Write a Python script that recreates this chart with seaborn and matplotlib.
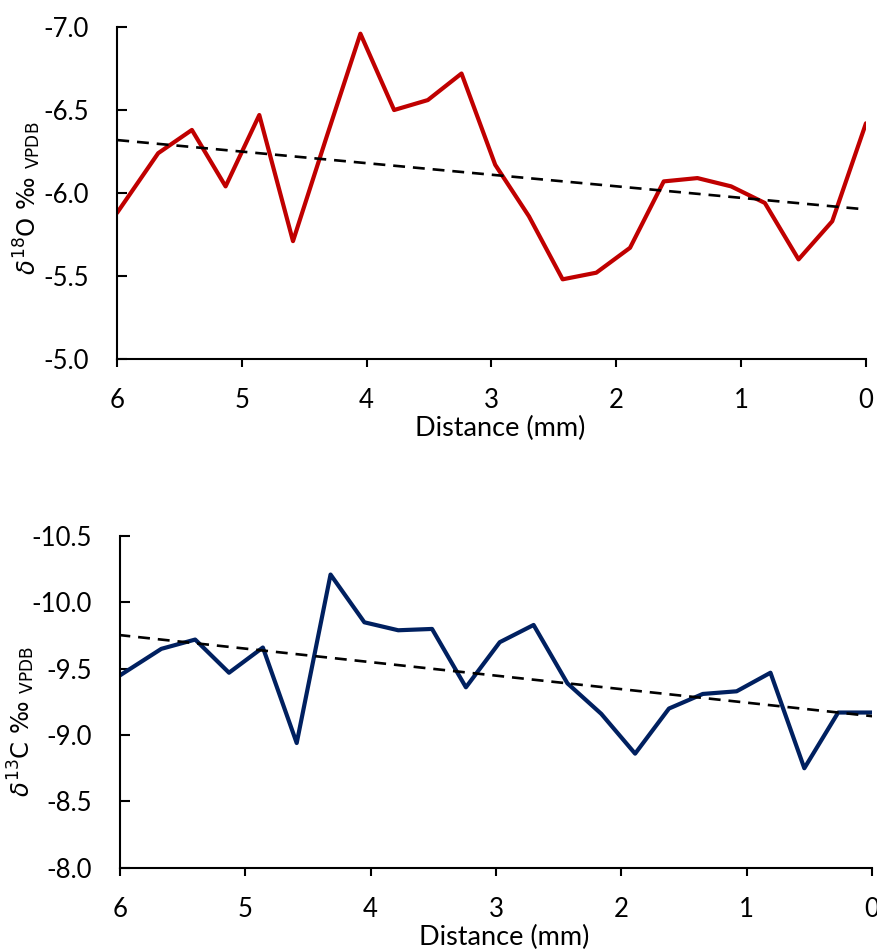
import numpy as np
import pandas as pd
import matplotlib
matplotlib.use("Agg")
import matplotlib.pyplot as plt
import seaborn as sns

# Sampling distance along the profile (mm)
distance_mm = [6.00, 5.67, 5.40, 5.13, 4.86, 4.59, 4.32, 4.05, 3.78, 3.51, 3.24, 2.97,
               2.70, 2.43, 2.16, 1.89, 1.62, 1.35, 1.08, 0.81, 0.54, 0.27, 0.00]

# Oxygen isotope values (per mil, VPDB)
d18O = [-5.88, -6.24, -6.38, -6.04, -6.47, -5.71, -6.34, -6.96, -6.50, -6.56, -6.72, -6.17,
        -5.86, -5.48, -5.52, -5.67, -6.07, -6.09, -6.04, -5.94, -5.60, -5.83, -6.42]

# Carbon isotope values (per mil, VPDB)
d13C = [-9.45, -9.65, -9.72, -9.47, -9.66, -8.94, -10.21, -9.85, -9.79, -9.80, -9.36, -9.70,
        -9.83, -9.39, -9.16, -8.86, -9.20, -9.31, -9.33, -9.47, -8.75, -9.17, -9.17]

x_ticks = [6, 5, 4, 3, 2, 1, 0]
o_ticks = [-7.0, -6.5, -6.0, -5.5, -5.0]
c_ticks = [-10.5, -10.0, -9.5, -9.0, -8.5, -8.0]

df = pd.DataFrame({"distance": distance_mm, "d18O": d18O, "d13C": d13C})

sns.set_theme(style="ticks")
plt.rcParams["font.family"] = ["Lato", "DejaVu Sans"]
plt.rcParams["mathtext.fontset"] = "dejavusans"

fig = plt.figure(figsize=(8.77, 9.52), dpi=100)
ax1 = fig.add_axes([0.1334, 0.6229, 0.854, 0.3487])
ax2 = fig.add_axes([0.1368, 0.0885, 0.8575, 0.3484])

panels = [
    (ax1, "d18O", "#C00000", o_ticks,
     r"$\delta^{\mathregular{18}}$O ‰ $_{\mathregular{VPDB}}$", (-0.099, 0.485)),
    (ax2, "d13C", "#002060", c_ticks,
     r"$\delta^{\mathregular{13}}$C ‰ $_{\mathregular{VPDB}}$", (-0.110, 0.44)),
]

for ax, col, color, yt, ylab, ylab_pos in panels:
    sns.lineplot(data=df, x="distance", y=col, ax=ax, color=color, lw=3.0,
                 sort=False, estimator=None)
    # least-squares trend through the profile
    sns.regplot(data=df, x="distance", y=col, ax=ax, scatter=False, ci=None,
                truncate=False,
                line_kws=dict(color="black", lw=1.9, dashes=(4.5, 3.0)))
    ax.set_xlim(6, 0)
    ax.set_ylim(yt[-1], yt[0])
    ax.set_xticks(x_ticks)
    ax.set_yticks(yt)
    ax.set_xticklabels([str(t) for t in x_ticks])
    ax.set_yticklabels([f"{t:.1f}" for t in yt])
    for s in ["top", "right"]:
        ax.spines[s].set_visible(False)
    for s in ["left", "bottom"]:
        ax.spines[s].set_linewidth(1.5)
        ax.spines[s].set_color("black")
    ax.tick_params(axis="x", direction="out", length=6, width=1.5, pad=15,
                   labelsize=18.5, colors="black")
    ax.tick_params(axis="y", direction="in", length=7, width=1.5, pad=20,
                   labelsize=18.5, colors="black")
    ax.set_xlabel("Distance (mm)", fontsize=19.5, color="black")
    ax.xaxis.set_label_coords(0.511, -0.172)
    ax.set_ylabel(ylab, fontsize=17.5, color="black", family=["DejaVu Sans"])
    ax.yaxis.set_label_coords(*ylab_pos)

fig.savefig("out.png", dpi=100)
